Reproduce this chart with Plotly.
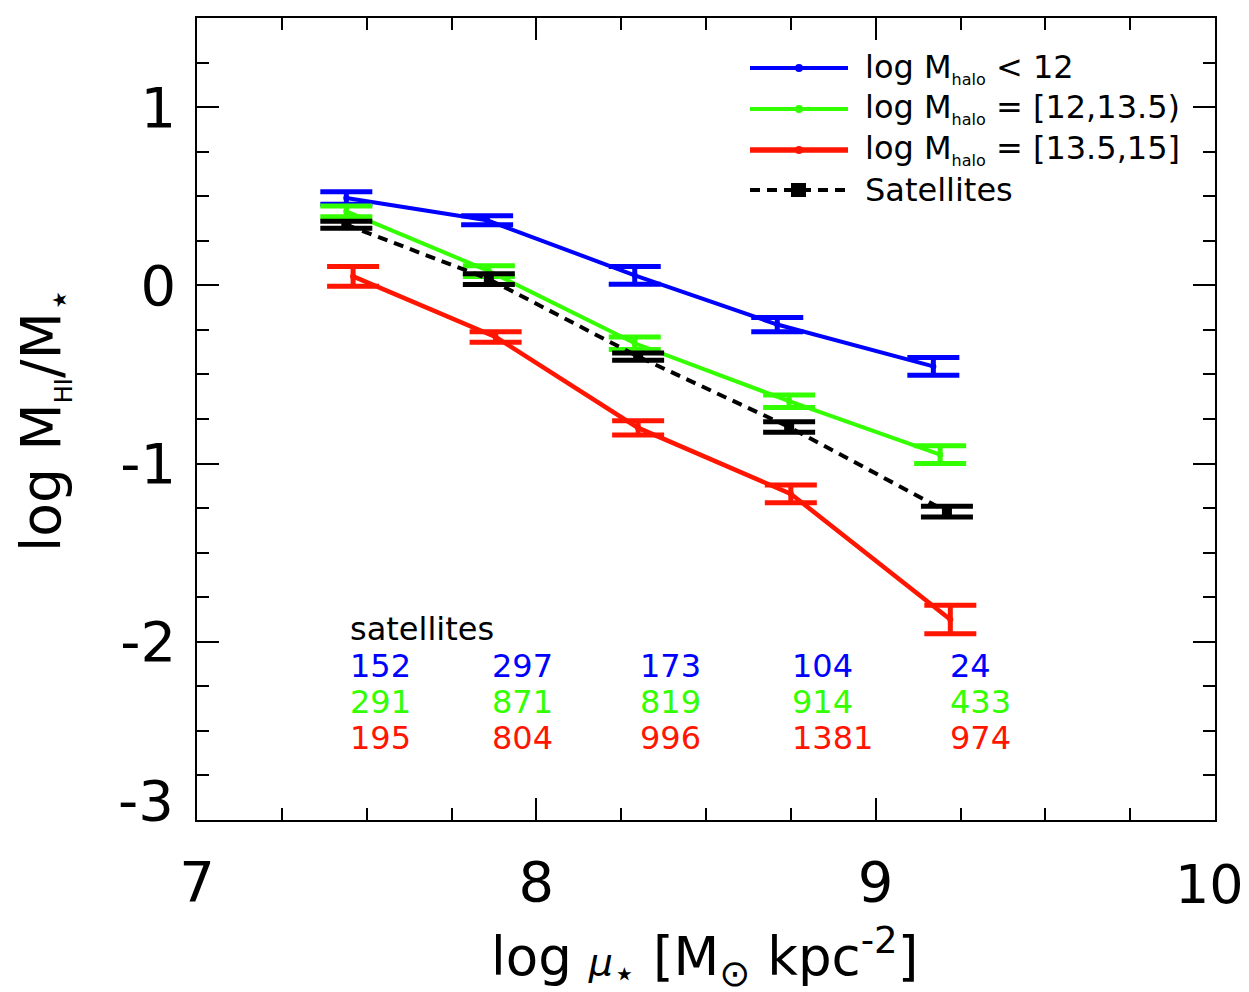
import plotly.graph_objects as go

# ---- data ----
x_blue = [7.44, 7.855, 8.29, 8.71, 9.17]
y_blue = [0.49, 0.365, 0.056, -0.22, -0.455]
e_blue = [0.035, 0.025, 0.05, 0.04, 0.05]

x_green = [7.44, 7.86, 8.29, 8.745, 9.19]
y_green = [0.415, 0.08, -0.325, -0.65, -0.95]
e_green = [0.03, 0.03, 0.035, 0.035, 0.05]

x_red = [7.46, 7.88, 8.30, 8.75, 9.22]
y_red = [0.05, -0.29, -0.80, -1.17, -1.875]
e_red = [0.055, 0.03, 0.04, 0.05, 0.08]

x_sat = [7.44, 7.86, 8.30, 8.745, 9.21]
y_sat = [0.34, 0.035, -0.40, -0.795, -1.27]
e_sat = [0.02, 0.03, 0.02, 0.03, 0.03]

label_x = [7.445, 7.864, 8.30, 8.748, 9.213]
n_blue = ["152", "297", "173", "104", "24"]
n_green = ["291", "871", "819", "914", "433"]
n_red = ["195", "804", "996", "1381", "974"]

x_ticks = [7, 8, 9, 10]
x_ticklabels = ["7", "8", "9", ""]        # "10" drawn nudged inside the page, as in the original
y_ticks = [-3, -2, -1, 0, 1]
y_ticklabels = ["", "-2", "-1", "0", "1"]   # "-3" drawn slightly raised, as in the original

HALO = "<sub><span style='font-size:16px'>halo</span></sub>"
legend_labels = ["log M" + HALO + " &lt; 12",
                 "log M" + HALO + " = [12,13.5)",
                 "log M" + HALO + " = [13.5,15]",
                 "Satellites"]

BLUE = "#0000FF"
GREEN = "#33FF00"
RED = "#FF1500"
BLACK = "#000000"
FONT = "DejaVu Sans"

fig = go.Figure()


def add_series(x, y, e, color, dash="solid", symbol="circle", msize=6, lw=4):
    fig.add_trace(go.Scatter(
        x=x, y=y, mode="lines+markers",
        line=dict(color=color, width=lw, dash=dash),
        marker=dict(color=color, size=msize, symbol=symbol),
        error_y=dict(type="data", array=e, visible=True, color=color,
                     thickness=5, width=26),
        showlegend=False))


add_series(x_blue, y_blue, e_blue, BLUE)
add_series(x_green, y_green, e_green, GREEN)
add_series(x_red, y_red, e_red, RED, lw=4.5)
add_series(x_sat, y_sat, e_sat, BLACK, dash="10px,7px", symbol="square", msize=10, lw=4)

# ---- geometry helpers (page has an 8px body margin) ----
OFF = 8
W, H = 1249 - OFF, 992 - OFF
ml, mr, mt, mb = 197 - OFF, 34, 18 - OFF, 172
pw, ph = W - ml - mr, H - mt - mb


def px(xp):
    return (xp - OFF - ml) / pw


def py(yp):
    return 1 - (yp - OFF - mt) / ph


# ---- count annotations ----
fig.add_annotation(x=label_x[0], y=-1.93, text="satellites", showarrow=False,
                   xanchor="left", yanchor="middle",
                   font=dict(family=FONT, size=32, color=BLACK))
for row_y, vals, col in [(-2.135, n_blue, BLUE), (-2.337, n_green, GREEN), (-2.54, n_red, RED)]:
    for xv, t in zip(label_x, vals):
        fig.add_annotation(x=xv, y=row_y, text=t, showarrow=False,
                           xanchor="left", yanchor="middle",
                           font=dict(family=FONT, size=32, color=col))

# ---- manual legend ----
leg_y = [68, 109, 150, 190]
leg_cols = [BLUE, GREEN, RED, BLACK]
for i, (yy, col, lab) in enumerate(zip(leg_y, leg_cols, legend_labels)):
    if i < 3:
        fig.add_shape(type="line", xref="paper", yref="paper",
                      x0=px(750), x1=px(848), y0=py(yy), y1=py(yy),
                      line=dict(color=col, width=4 if i < 2 else 5.5))
        fig.add_shape(type="circle", xref="paper", yref="paper",
                      x0=px(795), x1=px(803), y0=py(yy + 4), y1=py(yy - 4),
                      fillcolor=col, line=dict(color=col, width=0))
    else:
        fig.add_shape(type="line", xref="paper", yref="paper",
                      x0=px(750), x1=px(848), y0=py(yy), y1=py(yy),
                      line=dict(color=col, width=4, dash="10px,7px"))
        fig.add_shape(type="rect", xref="paper", yref="paper",
                      x0=px(791), x1=px(806), y0=py(yy + 7), y1=py(yy - 7),
                      fillcolor=col, line=dict(color=col, width=0))
    fig.add_annotation(xref="paper", yref="paper", x=px(863), y=py(yy),
                       text=lab, showarrow=False, xanchor="left", yanchor="middle",
                       font=dict(family=FONT, size=32, color=BLACK))

# raised "-3" tick label
fig.add_annotation(xref="paper", yref="y", x=px(176), y=-3 + (820 - 801) / 178,
                   text="-3", showarrow=False, xanchor="right", yanchor="middle",
                   font=dict(family=FONT, size=56, color=BLACK))
# "10" tick label kept inside the page
fig.add_annotation(xref="paper", yref="paper", x=px(1246), y=py(885),
                   text="10", showarrow=False, xanchor="right", yanchor="middle",
                   font=dict(family=FONT, size=54, color=BLACK))

# axis titles as annotations
fig.add_annotation(xref="paper", yref="paper", x=px(45), y=py(420),
                   text="log M<sub><span style='font-size:24px'>HI</span></sub>/M<sub>⋆</sub>",
                   textangle=-90, showarrow=False, xanchor="center", yanchor="middle",
                   font=dict(family=FONT, size=55, color=BLACK))
fig.add_annotation(xref="paper", yref="paper", x=px(704), y=py(957),
                   text="log <span style='font-size:38px'><i>μ</i></span><sub>⋆</sub> [M<sub>⊙</sub> kpc<sup>-2</sup>]",
                   showarrow=False, xanchor="center", yanchor="middle",
                   font=dict(family=FONT, size=53, color=BLACK))

axis_common = dict(
    showline=True, linecolor="black", linewidth=1.5, mirror="ticks",
    ticks="inside", ticklen=22, tickwidth=1.5, tickcolor="black",
    showgrid=False, zeroline=False, ticklabeloverflow="allow",
    tickfont=dict(family=FONT, size=56, color="black"),
)

fig.update_xaxes(range=[7, 10], tickvals=x_ticks, ticktext=x_ticklabels,
                 minor=dict(dtick=0.25, ticks="inside", ticklen=12, tickwidth=1.5,
                            tickcolor="black", showgrid=False),
                 ticklabelstandoff=12,
                 **axis_common)
fig.update_yaxes(range=[-3, 1.5], tickvals=y_ticks, ticktext=y_ticklabels,
                 minor=dict(dtick=0.25, ticks="inside", ticklen=12, tickwidth=1.5,
                            tickcolor="black", showgrid=False),
                 ticklabelstandoff=8,
                 **axis_common)

fig.update_layout(
    width=W, height=H,
    margin=dict(l=ml, r=mr, t=mt, b=mb, autoexpand=False),
    paper_bgcolor="white", plot_bgcolor="white",
    showlegend=False,
    font=dict(family=FONT),
)

fig.write_html("out.html")
